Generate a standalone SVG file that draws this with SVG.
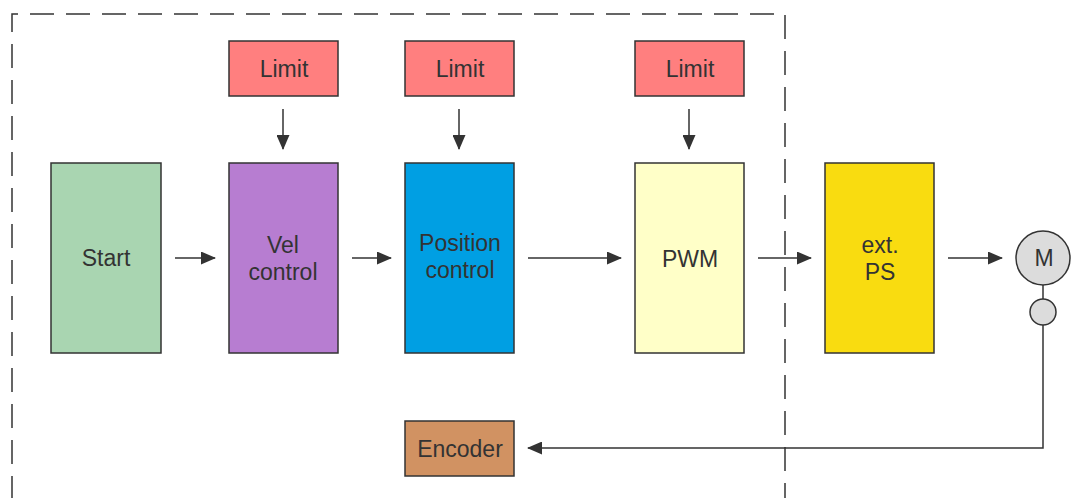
<svg xmlns="http://www.w3.org/2000/svg" width="1076" height="498" viewBox="0 0 1076 498">
<style>
.b{stroke:#333;stroke-width:1.5}
.t{font-family:"Liberation Sans",Arial,sans-serif;font-size:23px;fill:#333;text-anchor:middle}
.c{stroke:#333;stroke-width:1.5;fill:none}
</style>
<defs>
<marker id="a" markerWidth="15" markerHeight="13" refX="14" refY="6.5" orient="auto" markerUnits="userSpaceOnUse">
<path d="M0,0 L15,6.5 L0,13 Z" fill="#333"/>
</marker>
</defs>
<rect width="1076" height="498" fill="#fff"/>
<path d="M12,500 V14 H785 V500" fill="none" stroke="#333" stroke-width="1.5" stroke-dasharray="24 12"/>
<g id="start"><rect class="b" x="51" y="163" width="110" height="190" fill="#a9d5b1"/><text class="t" x="106" y="266">Start</text></g>
<g id="vel"><rect class="b" x="229" y="163" width="109" height="190" fill="#b77dd1"/><text class="t" x="283" y="253">Vel</text><text class="t" x="283" y="280">control</text></g>
<g id="pos"><rect class="b" x="405" y="163" width="109" height="190" fill="#009fe3"/><text class="t" x="460" y="251">Position</text><text class="t" x="460" y="278">control</text></g>
<g id="pwm"><rect class="b" x="635" y="163" width="109" height="190" fill="#ffffc8"/><text class="t" x="690" y="267">PWM</text></g>
<g id="ps"><rect class="b" x="825" y="163" width="109" height="190" fill="#f9dc10"/><text class="t" x="880" y="253">ext.</text><text class="t" x="880" y="280">PS</text></g>
<g id="limit1"><rect class="b" x="229" y="41" width="109" height="55" fill="#ff7f7f"/><text class="t" x="284" y="77">Limit</text></g>
<g id="limit2"><rect class="b" x="405" y="41" width="109" height="55" fill="#ff7f7f"/><text class="t" x="460" y="77">Limit</text></g>
<g id="limit3"><rect class="b" x="635" y="41" width="109" height="55" fill="#ff7f7f"/><text class="t" x="690" y="77">Limit</text></g>
<g id="encoder"><rect class="b" x="405" y="421" width="109" height="55" fill="#d19262"/><text class="t" x="460" y="457">Encoder</text></g>
<g id="motor"><circle class="b" cx="1043" cy="258" r="27" fill="#dcdcdc"/><text class="t" x="1044" y="266">M</text></g>
<g id="sensor"><circle class="b" cx="1043" cy="312" r="13" fill="#dcdcdc"/></g>
<g id="connectors">
<path class="c" d="M175,258 H215" marker-end="url(#a)"/>
<path class="c" d="M352,258 H391" marker-end="url(#a)"/>
<path class="c" d="M528,258 H621" marker-end="url(#a)"/>
<path class="c" d="M758,258 H811" marker-end="url(#a)"/>
<path class="c" d="M948,258 H1002" marker-end="url(#a)"/>
<path class="c" d="M283,109 V149" marker-end="url(#a)"/>
<path class="c" d="M459,109 V149" marker-end="url(#a)"/>
<path class="c" d="M689,109 V149" marker-end="url(#a)"/>
<path class="c" d="M1043,285 V299"/>
<path class="c" d="M1043,325 V448 H528" marker-end="url(#a)"/>
</g>
</svg>
